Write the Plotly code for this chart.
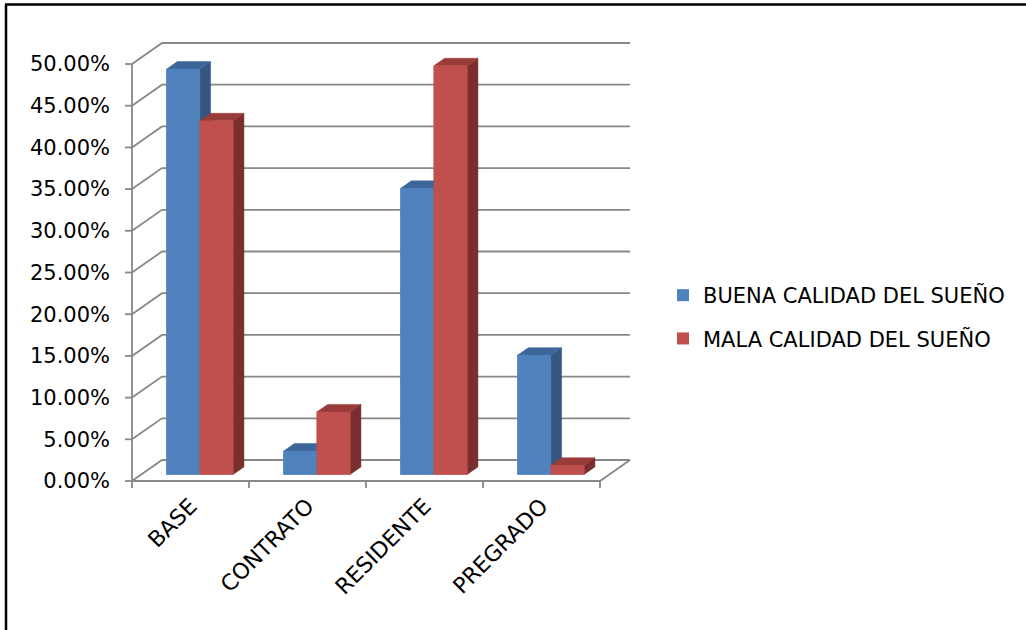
import plotly.graph_objects as go

categories = ["BASE", "CONTRATO", "RESIDENTE", "PREGRADO"]
buena = [48.6, 2.8, 34.3, 14.3]
mala = [42.4, 7.5, 49.0, 1.1]
series_names = ["BUENA CALIDAD DEL SUEÑO", "MALA CALIDAD DEL SUEÑO"]
y_ticks = [0, 5, 10, 15, 20, 25, 30, 35, 40, 45, 50]
y_ticktext = [f"{v:.2f}%" for v in y_ticks]

# ---- geometry (pixel layout of the pseudo-3D Excel chart) ----
W, H = 1026, 630
X0PX, Y0PX = 132, 481          # front-left floor corner in pixels
XU, YU = 117.0, 8.34           # pixels per category / per percent
L, R, T, B = 125, 393, 41, 142
x_range = [-(X0PX - L) / XU, (W - R - X0PX) / XU]
y_range = [-(H - B - Y0PX) / YU, (Y0PX - T) / YU]
DX, DY = 30 / XU, 21 / YU       # full depth offset (data units)
F0, FB = 0.31, 0.36             # bar front depth fraction, bar depth fraction
BW = 0.285                      # bar width
ncat = len(categories)

GRID = "#888888"
GW = 1.8
colors = {
    0: ("#4F81BD", "#3C6699", "#34577F"),
    1: ("#C0504D", "#983B39", "#7A2F2E"),
}

sx, sy = F0 * DX, F0 * DY   # front-face shift
bx, by = FB * DX, FB * DY   # bar depth

fig = go.Figure()

# bar traces (front faces; also provide legend). Bar layer sits under scatter layer.
for si, vals in enumerate([buena, mala]):
    lefts = [i + 0.5 - BW + si * BW + sx for i in range(ncat)]
    fig.add_trace(go.Bar(
        x=[l + BW / 2 for l in lefts], y=vals, base=[sy] * ncat, width=BW,
        marker=dict(color=colors[si][0], line=dict(width=0)), name=series_names[si],
        legendgroup=str(si), hoverinfo="skip"))

# back wall and side wall gridlines
gx, gy = [], []
for v in y_ticks:
    gx += [0, DX, ncat + DX, None]
    gy += [v, v + DY, v + DY, None]
gx += [0, ncat, ncat + DX, None]
gy += [0, 0, DY, None]
gx += [0, 0, None]
gy += [0, y_ticks[-1], None]
for v in y_ticks:
    gx += [-7 / XU, 0, None]
    gy += [v, v, None]
for k in range(ncat + 1):
    gx += [k, k, None]
    gy += [0, -7 / YU, None]
fig.add_trace(go.Scatter(x=gx, y=gy, mode="lines", line=dict(color=GRID, width=GW),
                         hoverinfo="skip", showlegend=False))

# 3D faces drawn in painter's order: blue series first, then red
for si, vals in enumerate([buena, mala]):
    front, top, side = colors[si]
    lefts = [i + 0.5 - BW + si * BW + sx for i in range(ncat)]
    fx, fy, tx, ty, rx, ry = [], [], [], [], [], []
    for l, v in zip(lefts, vals):
        h = v + sy
        fx += [l, l + BW, l + BW, l, l, None]
        fy += [sy, sy, h, h, sy, None]
        tx += [l, l + BW, l + BW + bx, l + bx, l, None]
        ty += [h, h, h + by, h + by, h, None]
        rx += [l + BW, l + BW + bx, l + BW + bx, l + BW, l + BW, None]
        ry += [sy, sy + by, h + by, h, sy, None]
    for xs, ys, c in [(rx, ry, side), (tx, ty, top), (fx, fy, front)]:
        fig.add_trace(go.Scatter(x=xs, y=ys, mode="lines", fill="toself", fillcolor=c,
                                 line=dict(width=0.5, color=c), hoverinfo="skip",
                                 showlegend=False, legendgroup=str(si)))

FONT = "DejaVu Sans"
fig.update_layout(
    width=W, height=H,
    margin=dict(l=L, r=R, t=T, b=B),
    paper_bgcolor="white", plot_bgcolor="white",
    barmode="overlay",
    font=dict(family=FONT, size=20, color="black"),
    xaxis=dict(range=x_range, showgrid=False, zeroline=False, showline=False,
               tickmode="array", tickvals=[i + 0.5 for i in range(ncat)],
               ticktext=categories, tickangle=-45, ticks="",
               tickfont=dict(size=22), fixedrange=True),
    yaxis=dict(range=y_range, showgrid=False, zeroline=False, showline=False,
               tickmode="array", tickvals=y_ticks, ticktext=y_ticktext,
               ticks="", ticklabelstandoff=14, tickfont=dict(size=21), fixedrange=True),
    legend=dict(xref="container", yref="container", x=663 / W, y=1 - 275 / H,
                xanchor="left", yanchor="top", font=dict(size=21),
                tracegroupgap=13, bgcolor="rgba(0,0,0,0)", traceorder="grouped"),
    shapes=[
        dict(type="line", xref="paper", yref="paper",
             x0=(6 - L) / (W - L - R), x1=(6 - L) / (W - L - R),
             y0=(H - B - 4.5) / (H - T - B), y1=(H - B - 650) / (H - T - B),
             line=dict(color="black", width=2.5)),
        dict(type="line", xref="paper", yref="paper",
             x0=(5 - L) / (W - L - R), x1=(1040 - L) / (W - L - R),
             y0=(H - B - 4.5) / (H - T - B), y1=(H - B - 4.5) / (H - T - B),
             line=dict(color="black", width=2.5)),
    ],
)

fig.write_html("out.html")
